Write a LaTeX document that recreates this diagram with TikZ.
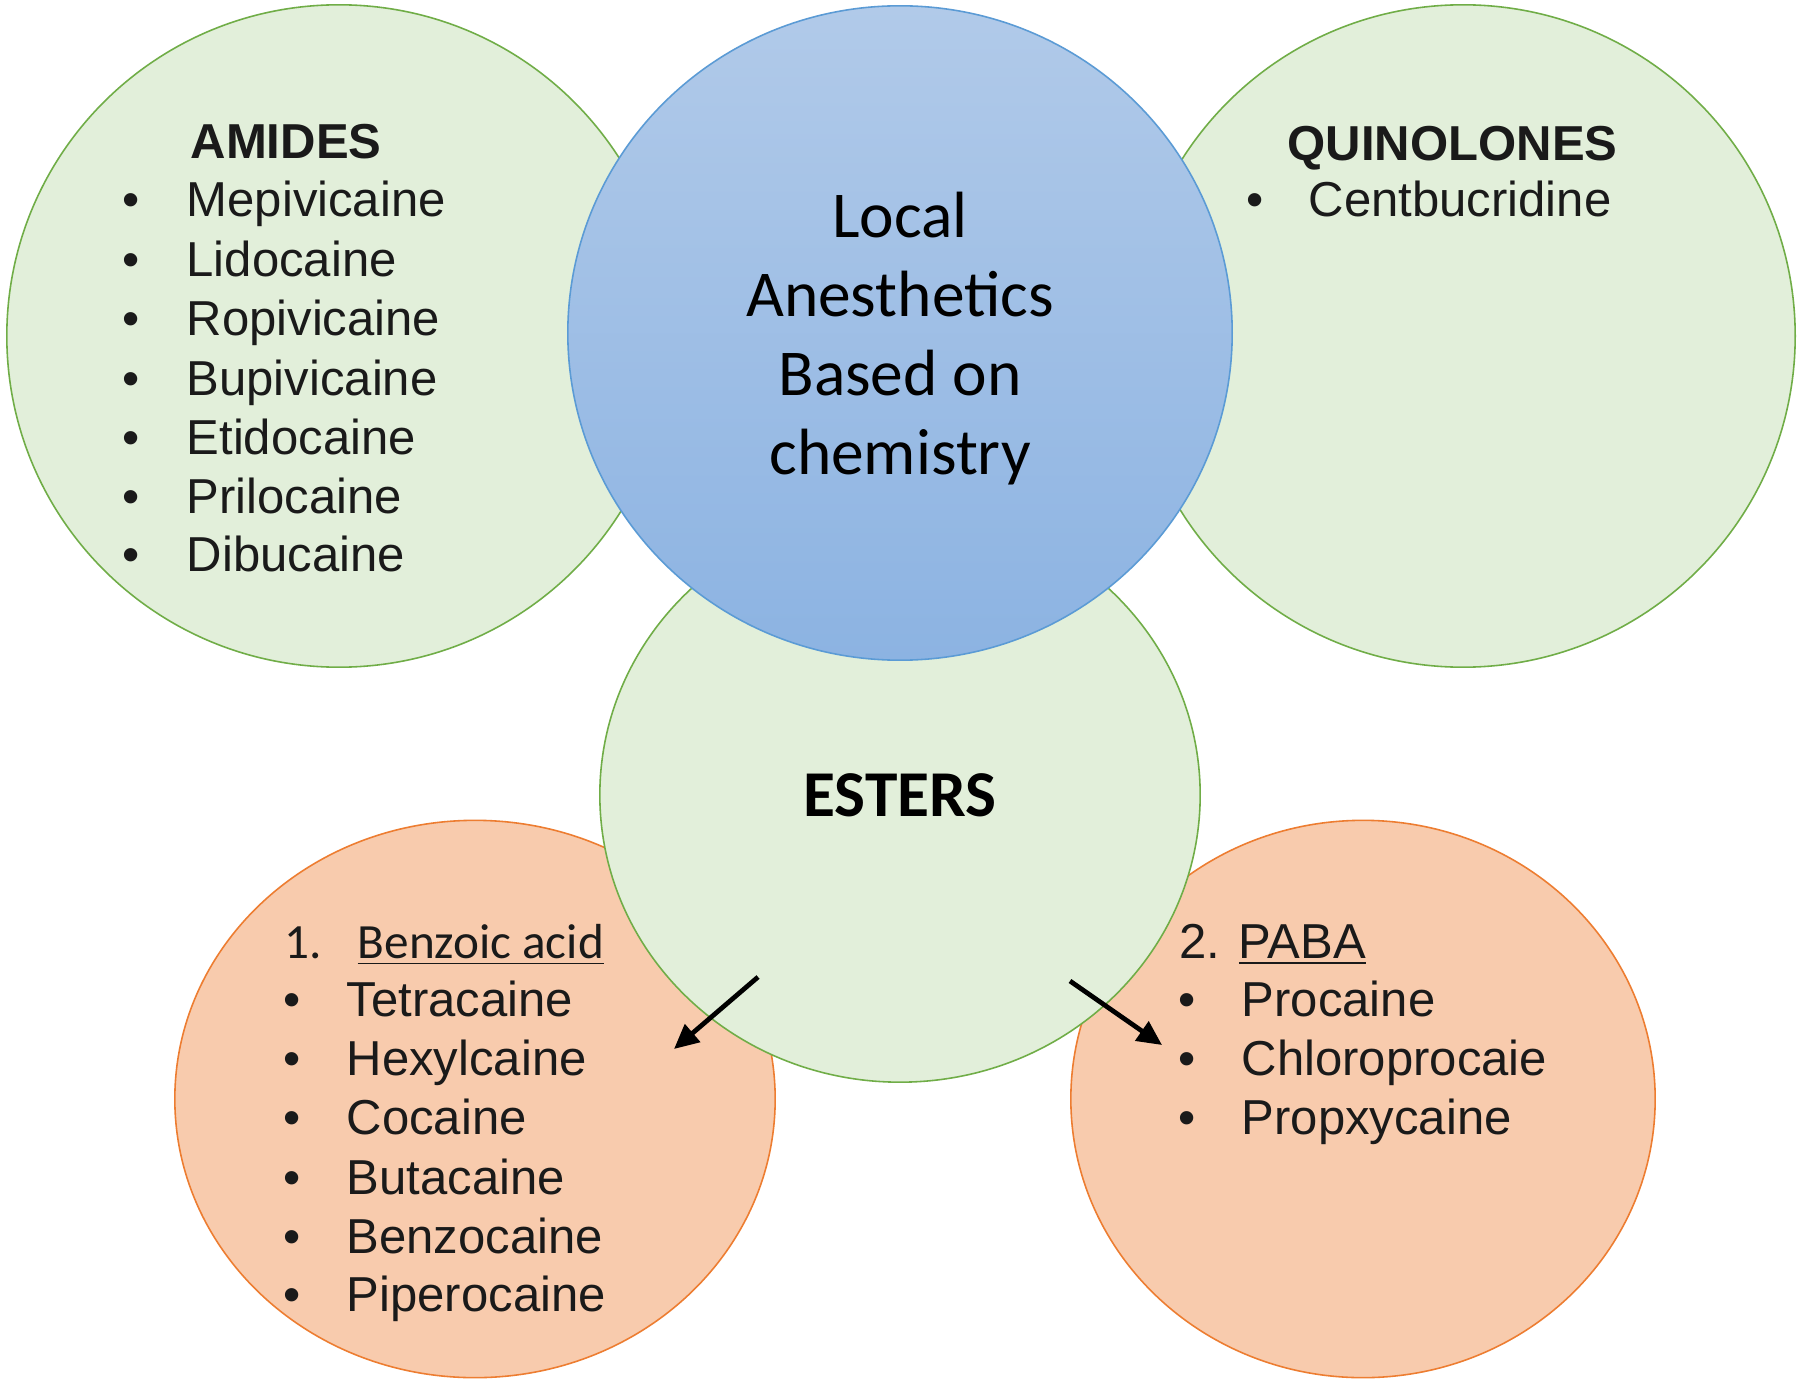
\documentclass[tikz,border=0pt]{standalone}
\usepackage{fontspec}
\setmainfont{Liberation Sans}
\newfontfamily\calibri{Carlito}
\usetikzlibrary{shapes.geometric,arrows.meta}
\definecolor{gfill}{HTML}{E2EFDA}
\definecolor{gline}{HTML}{70AD47}
\definecolor{btop}{HTML}{B1CAE9}
\definecolor{bbot}{HTML}{8CB3E2}
\definecolor{bline}{HTML}{5B9BD5}
\definecolor{ofill}{HTML}{F8CBAD}
\definecolor{oline}{HTML}{ED7D31}
\definecolor{txt}{HTML}{1A1A1A}
\tikzset{
  greencirc/.style={ellipse, draw=gline, fill=gfill, line width=0.45pt, inner sep=0pt},
  orangecirc/.style={ellipse, draw=oline, fill=ofill, line width=0.45pt, inner sep=0pt},
  bluecirc/.style={ellipse, draw=bline, top color=btop, bottom color=bbot, line width=0.45pt, inner sep=0pt},
  itemtxt/.style={anchor=base west, inner sep=0pt, text=txt, font=\fontsize{13.95pt}{16pt}\selectfont},
  bul/.style={anchor=base, inner sep=0pt, text=txt, font=\fontsize{13.95pt}{16pt}\selectfont},
  headtxt/.style={anchor=base west, inner sep=0pt, text=txt, font=\fontsize{13.95pt}{16pt}\selectfont\bfseries},
  centertxt/.style={anchor=base, inner sep=0pt, text=black, font=\calibri\fontsize{18.6pt}{22pt}\selectfont},
  subtxt/.style={anchor=base west, inner sep=0pt, text=txt, font=\calibri\fontsize{14pt}{16pt}\selectfont},
  arr/.style={-{Triangle[length=7pt,width=6.5pt]}, line width=1.35pt, black}
}
\begin{document}
\begin{tikzpicture}[x=0.01cm,y=-0.01cm]
\useasboundingbox[fill=white] (0,0) rectangle (1800,1385);
% orange circles
\node[orangecirc, minimum width=6.00cm, minimum height=5.57cm] (benz) at (475,1099) {};
\node[orangecirc, minimum width=5.84cm, minimum height=5.57cm] (paba) at (1363,1099) {};
% green circles
\node[greencirc, minimum width=6.64cm, minimum height=6.62cm] (amides) at (339,336) {};
\node[greencirc, minimum width=6.64cm, minimum height=6.62cm] (quin) at (1463,336) {};
\node[greencirc, minimum width=6.00cm, minimum height=5.74cm] (esters) at (900,795) {};
% blue circle
\node[bluecirc, minimum width=6.64cm, minimum height=6.54cm] (center) at (900,333) {};

% center text
\node[centertxt] (c1) at (900,238) {Local};
\node[centertxt] (c2) at (900,317) {Anesthetics};
\node[centertxt] (c3) at (900,395) {Based on};
\node[centertxt] (c4) at (900,474) {chemistry};

% amides
\node[headtxt] (amh) at (190,159) {AMIDES};
\foreach \n/\t/\y in {1/Mepivicaine/217,2/Lidocaine/276,3/Ropivicaine/335,4/Bupivicaine/395,5/Etidocaine/454,6/Prilocaine/513,7/Dibucaine/571}{
  \node[bul] (amb\n) at (131,\y) {•};
  \node[itemtxt] (ami\n) at (186,\y) {\t};
}

% quinolones
\node[headtxt] (quh) at (1287,160) {QUINOLONES};
\node[bul] (qub1) at (1255,217) {•};
\node[itemtxt] (qui1) at (1308,217) {Centbucridine};

% esters
\node[anchor=base, inner sep=0pt, text=black, font=\calibri\bfseries\fontsize{18.6pt}{22pt}\selectfont] (esth) at (900,816) {ESTERS};

% benzoic acid group
\node[subtxt] (bnum) at (284,958) {1.};
\node[subtxt] (bhead) at (357,958) {\underline{Benzoic acid}};
\foreach \n/\t/\y in {1/Tetracaine/1016,2/Hexylcaine/1075,3/Cocaine/1134,4/Butacaine/1194,5/Benzocaine/1253,6/Piperocaine/1311}{
  \node[bul] (bb\n) at (292,\y) {•};
  \node[itemtxt] (bi\n) at (346,\y) {\t};
}

% PABA group
\node[itemtxt] (phead) at (1179,958) {2. \underline{PABA}};
\foreach \n/\t/\y in {1/Procaine/1016,2/Chloroprocaie/1075,3/Propxycaine/1134}{
  \node[bul] (pb\n) at (1187,\y) {•};
  \node[itemtxt] (pi\n) at (1241,\y) {\t};
}

% arrows
\coordinate (a1s) at (758,977);
\coordinate (a1e) at (674,1049);
\coordinate (a2s) at (1070,981);
\coordinate (a2e) at (1162,1045);
\draw[arr] (a1s) -- (a1e);
\draw[arr] (a2s) -- (a2e);
\end{tikzpicture}
\end{document}
